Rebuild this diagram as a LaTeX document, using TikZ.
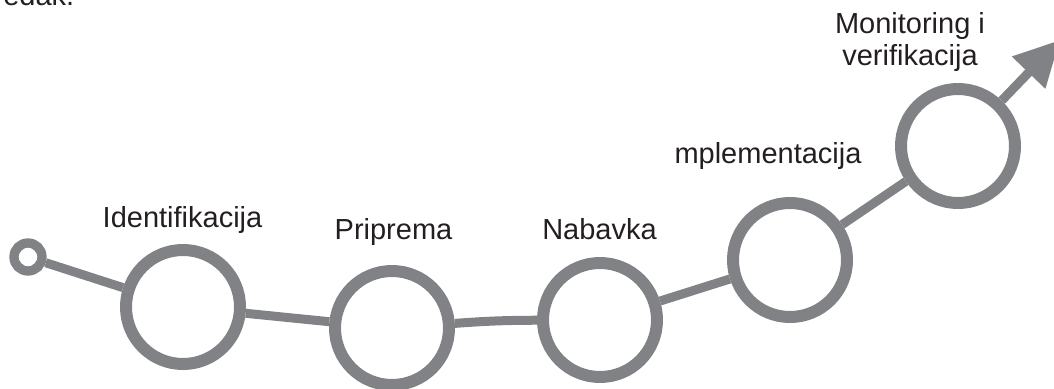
\documentclass[tikz,border=0pt]{standalone}
\usepackage{fontspec}
\setmainfont{Liberation Sans}
\usetikzlibrary{arrows.meta}
\definecolor{pathgray}{RGB}{128,130,133}
\definecolor{ink}{RGB}{35,31,32}
\tikzstyle{stage}=[circle, draw=pathgray, line width=9pt, minimum size=85.5pt, inner sep=0pt]
\tikzstyle{startdot}=[circle, draw=pathgray, line width=7pt, minimum size=21pt, inner sep=0pt]
\tikzstyle{link}=[draw=pathgray, line width=6.75pt]
\tikzstyle{lbl}=[text=ink, font=\fontsize{21.75}{24}\selectfont, inner sep=0pt, anchor=base, align=center]

\begin{document}
\begin{tikzpicture}[x=0.75pt, y=-0.75pt]
        \useasboundingbox (0,0) rectangle (1054,389);
        \clip (0,0) rectangle (1054,389);
        \node[startdot] (start) at (28,257) {};
        \node[stage] (ident) at (183,307) {};
        \node[stage] (prip) at (392,328) {};
        \node[stage] (nab) at (600,320) {};
        \node[stage] (impl) at (790,260) {};
        \node[stage] (monit) at (958,146) {};
        \coordinate (tip) at (1060,40);
        \draw[link] (start) -- (ident);
        \draw[link] (ident) -- (prip);
        \draw[link] (prip) to[bend left=2] (nab);
        \draw[link] (nab) -- (impl);
        \draw[link] (impl) -- (monit);
        \draw[link, -{Triangle[length=34pt, width=33pt]}] (monit) -- (tip);
        % labels
        \node[lbl] (lIdent) at (182.5,227) {Identifikacija};
        \node[lbl] (lPrip) at (393.5,239) {Priprema};
        \node[lbl] (lNab) at (599.5,239) {Nabavka};
        \node[lbl] (lImpl) at (768,163) {mplementacija};
        \node[lbl] (lMonit) at (910,65) {Monitoring i\\verifikacija};
        \node[lbl, anchor=base west] (lTop) at (3,6) {edak.};
    \end{tikzpicture}
\end{document}
